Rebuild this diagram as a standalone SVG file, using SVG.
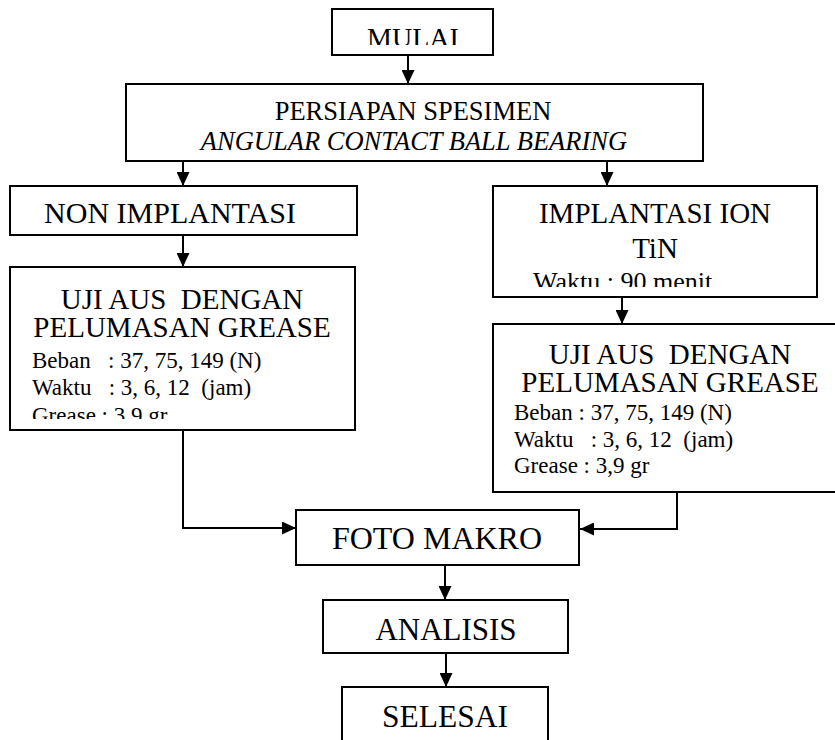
<svg xmlns="http://www.w3.org/2000/svg" width="835" height="740" viewBox="0 0 835 740">
<style>
.box{fill:#fff;stroke:#000;stroke-width:2}
.t{font-family:"Liberation Serif","Times New Roman",serif;fill:#000}
.c{text-anchor:middle}
.conn{fill:none;stroke:#000;stroke-width:2}
</style>
<defs>
<marker id="ah" markerUnits="userSpaceOnUse" markerWidth="14" markerHeight="13" refX="14" refY="6.5" orient="auto">
<path d="M0,0 L14,6.5 L0,13 Z" fill="#000"/>
</marker>
<clipPath id="cpMulai" clipPathUnits="userSpaceOnUse"><rect x="333" y="10" width="159" height="35"/></clipPath>
<clipPath id="cpUjiL" clipPathUnits="userSpaceOnUse"><rect x="11" y="268" width="343" height="151"/></clipPath>
<clipPath id="cpImpl" clipPathUnits="userSpaceOnUse"><rect x="494" y="187" width="322" height="100"/></clipPath>
</defs>
<rect width="835" height="740" fill="#fff"/>
<g id="connectors">
<line class="conn" x1="408" y1="55" x2="408" y2="84" marker-end="url(#ah)"/>
<line class="conn" x1="183" y1="161" x2="183" y2="186" marker-end="url(#ah)"/>
<line class="conn" x1="607" y1="161" x2="607" y2="186" marker-end="url(#ah)"/>
<line class="conn" x1="183" y1="235" x2="183" y2="267" marker-end="url(#ah)"/>
<line class="conn" x1="622" y1="297" x2="622" y2="324" marker-end="url(#ah)"/>
<polyline class="conn" points="183,430 183,528 296,528" marker-end="url(#ah)"/>
<polyline class="conn" points="677,492 677,529 580,529" marker-end="url(#ah)"/>
<line class="conn" x1="445" y1="565" x2="445" y2="600" marker-end="url(#ah)"/>
<line class="conn" x1="446" y1="653" x2="446" y2="687" marker-end="url(#ah)"/>
</g>
<g id="mulai">
<rect class="box" x="332" y="9" width="161" height="46"/>
<text class="t c" x="413" y="47" font-size="28" clip-path="url(#cpMulai)">MULAI</text>
</g>
<g id="persiapan">
<rect class="box" x="126" y="84" width="577" height="77"/>
<text class="t c" x="413" y="120" font-size="26.5">PERSIAPAN SPESIMEN</text>
<text class="t c" x="414" y="150" font-size="26.5" font-style="italic">ANGULAR CONTACT BALL BEARING</text>
</g>
<g id="non-implantasi">
<rect class="box" x="10" y="186" width="347" height="49"/>
<text class="t c" x="170" y="223" font-size="30">NON IMPLANTASI</text>
</g>
<g id="uji-kiri">
<rect class="box" x="10" y="267" width="345" height="163"/>
<g clip-path="url(#cpUjiL)">
<text class="t c" x="182" y="309" font-size="29" xml:space="preserve">UJI AUS  DENGAN</text>
<text class="t c" x="182" y="337" font-size="29">PELUMASAN GREASE</text>
<text class="t" x="32" y="368" font-size="23" xml:space="preserve">Beban   : 37, 75, 149 (N)</text>
<text class="t" x="32" y="395" font-size="23" xml:space="preserve">Waktu   : 3, 6, 12  (jam)</text>
<text class="t" x="32" y="423" font-size="23">Grease : 3,9 gr</text>
</g>
</g>
<g id="implantasi">
<rect class="box" x="493" y="186" width="324" height="111"/>
<g clip-path="url(#cpImpl)">
<text class="t c" x="655" y="223" font-size="29">IMPLANTASI ION</text>
<text class="t c" x="655" y="258" font-size="29">TiN</text>
<text class="t" x="533" y="290" font-size="26">Waktu : 90 menit</text>
</g>
</g>
<g id="uji-kanan">
<rect class="box" x="493" y="324" width="360" height="168"/>
<text class="t c" x="670" y="364" font-size="29" xml:space="preserve">UJI AUS  DENGAN</text>
<text class="t c" x="670" y="392" font-size="29">PELUMASAN GREASE</text>
<text class="t" x="514" y="420" font-size="23">Beban : 37, 75, 149 (N)</text>
<text class="t" x="514" y="446.5" font-size="23" xml:space="preserve">Waktu   : 3, 6, 12  (jam)</text>
<text class="t" x="514" y="473" font-size="23">Grease : 3,9 gr</text>
</g>
<g id="foto-makro">
<rect class="box" x="296" y="510" width="283" height="55"/>
<text class="t c" x="437" y="549" font-size="32">FOTO MAKRO</text>
</g>
<g id="analisis">
<rect class="box" x="323" y="600" width="245" height="53"/>
<text class="t c" x="446" y="640" font-size="31">ANALISIS</text>
</g>
<g id="selesai">
<rect class="box" x="342" y="687" width="206" height="70"/>
<text class="t c" x="445" y="727" font-size="31.5">SELESAI</text>
</g>
</svg>
